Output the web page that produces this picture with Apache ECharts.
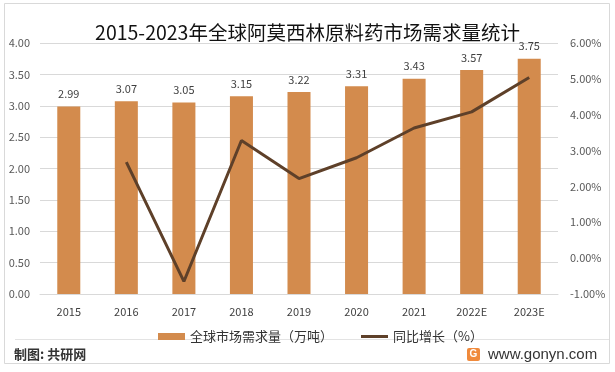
<!DOCTYPE html>
<html><head><meta charset="utf-8">
<script src="https://cdn.jsdelivr.net/npm/echarts@6/dist/echarts.min.js"></script>
<style>html,body{margin:0;padding:0;background:#fff}#c{width:615px;height:372px}</style>
</head><body><div id="c"></div>
<script>
const titleText = '2015-2023年全球阿莫西林原料药市场需求量统计';
const categories = ['2015','2016','2017','2018','2019','2020','2021','2022E','2023E'];
const demand = [2.99, 3.07, 3.05, 3.15, 3.22, 3.31, 3.43, 3.57, 3.75];
const growth = [null, 2.68, -0.65, 3.28, 2.22, 2.80, 3.63, 4.08, 5.04];
const barName = '全球市场需求量（万吨）';
const lineName = '同比增长（%）';
const sourceText = '制图: 共研网';
const siteText = 'www.gonyn.com';

const FONT = '"Noto Sans CJK SC", "Noto Sans", sans-serif';
const chart = echarts.init(document.getElementById('c'), null, {renderer:'canvas'});
chart.setOption({
  backgroundColor:'#fff',
  animation:false,
  textStyle:{fontFamily:FONT},
  title:{text:titleText,left:'center',top:18,textStyle:{fontSize:19.5,fontWeight:'normal',color:'#111',fontFamily:FONT}},
  grid:{left:40,right:57,top:43,bottom:78,containLabel:false},
  legend:{
    top:325,left:153,itemWidth:27,itemHeight:7,itemGap:28,
    textStyle:{fontSize:13,color:'#333',fontFamily:FONT},
    data:[{name:barName,icon:'rect'},{name:lineName,icon:'path://M0,0 L27,0 L27,3 L0,3 Z',itemStyle:{color:'#5E4029'}}]
  },
  xAxis:{type:'category',data:categories,
    axisLine:{lineStyle:{color:'#d9d9d9'}},axisTick:{show:false},
    axisLabel:{color:'#404040',fontSize:11,margin:12,fontFamily:FONT}},
  yAxis:[
    {type:'value',min:0,max:4,interval:0.5,
     axisLabel:{formatter:v=>v.toFixed(2),color:'#595959',fontSize:11,margin:10,fontFamily:FONT},
     splitLine:{lineStyle:{color:'#d9d9d9'}},axisLine:{show:false},axisTick:{show:false}},
    {type:'value',min:-1,max:6,interval:1,
     axisLabel:{formatter:v=>v.toFixed(2)+'%',color:'#595959',fontSize:11,margin:12,fontFamily:FONT},
     splitLine:{show:false},axisLine:{show:false},axisTick:{show:false}}
  ],
  series:[
    {name:barName,type:'bar',data:demand,barWidth:'40%',
     itemStyle:{color:'#D38B4D'},
     label:{show:true,position:'top',distance:7,formatter:p=>p.value.toFixed(2),color:'#404040',fontSize:11,fontFamily:FONT}},
    {name:lineName,type:'line',yAxisIndex:1,data:growth,symbol:'none',
     lineStyle:{color:'#5E4029',width:3},itemStyle:{color:'#5E4029'}}
  ],
  graphic:[
    {type:'rect',shape:{x:4.5,y:3.5,width:605,height:360},style:{fill:'none',stroke:'#d9d9d9',lineWidth:1},silent:true,z:-1},
    {type:'line',shape:{x1:15,y1:339.5,x2:609,y2:339.5},style:{stroke:'#e3e3e3',lineWidth:1},silent:true},
    {type:'text',left:14,top:348,style:{text:sourceText,fill:'#333',font:'bold 13px "Noto Sans CJK SC"'}},
    {type:'rect',shape:{x:467,y:348,width:13,height:13,r:2},style:{fill:'#F08A3C'}},
    {type:'text',x:473.5,y:354.5,style:{text:'G',fill:'#fff',font:'bold 10px "Liberation Sans"',align:'center',verticalAlign:'middle'}},
    {type:'text',x:488,y:355,style:{text:siteText,fill:'#333',font:'15px "Liberation Sans", "Noto Sans"',verticalAlign:'middle'}}
  ]
});
</script></body></html>
